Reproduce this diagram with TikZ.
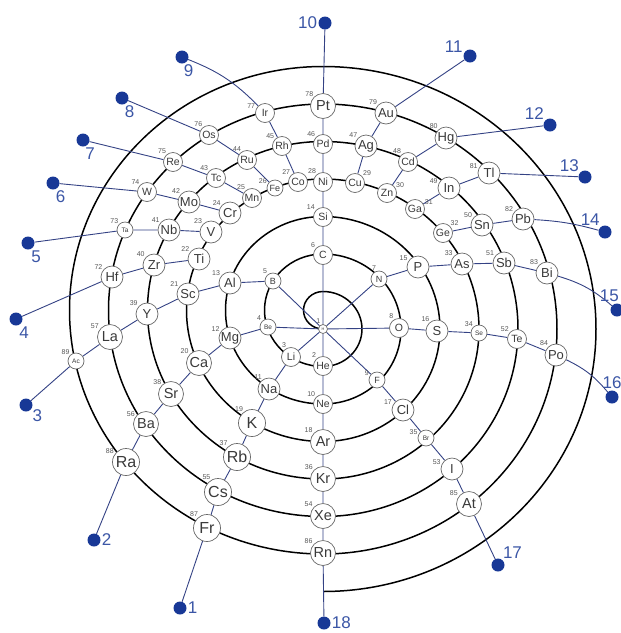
\documentclass[tikz,border=0pt]{standalone}
\usepackage{fontspec}
\setmainfont{Liberation Sans}
\usetikzlibrary{positioning}
\usetikzlibrary{backgrounds}

\definecolor{navy}{RGB}{24,56,150}
\definecolor{grpline}{RGB}{52,66,132}
\definecolor{rim}{RGB}{105,105,105}
\definecolor{ink}{RGB}{58,58,58}

\tikzset{
  el/.style={circle, draw=rim, line width=0.7pt, fill=white, inner sep=0pt, text=ink},
  elH/.style={el, minimum size=9pt, font=\fontsize{3.8}{4}\selectfont},
  elT/.style={el, minimum size=16pt, font=\fontsize{6.5}{7}\selectfont},
  elS/.style={el, minimum size=16pt, font=\fontsize{9}{10}\selectfont},
  elM/.style={el, minimum size=19pt, font=\fontsize{10.5}{11}\selectfont},
  elL/.style={el, minimum size=22pt, font=\fontsize{13}{14}\selectfont},
  elX/.style={el, minimum size=25pt, font=\fontsize{14.5}{15}\selectfont},
  elXX/.style={el, minimum size=27pt, font=\fontsize{16}{17}\selectfont},
  every label/.style={font=\fontsize{7}{7}\selectfont, text=ink!85, inner sep=0.5pt},
  gdot/.style={circle, fill=navy, inner sep=0pt, minimum size=13pt},
  gnum/.style={font=\fontsize{17}{17}\selectfont, text=navy!85, inner sep=1pt},
  grp/.style={draw=grpline, line width=0.9pt},
  spiral/.style={draw=black, line width=1.5pt},
}

\begin{document}
\begin{tikzpicture}[x=1pt, y=-1pt]
    \useasboundingbox (0,0) rectangle (621,633);

    % period 1 and 2
    \node[elH, label=115:1] (H) at (323,329) {H};
    \node[elM, label=130:2] (He) at (323,366) {He};
    \node[elM, label=115:3] (Li) at (291,357) {Li};
    \node[elT, label=140:4] (Be) at (268,327) {Be};
    \node[elS, label=130:5] (B) at (273,281) {B};
    \node[elM, label=138:6] (C) at (323,255) {C};
    \node[elS, label=105:7] (N) at (379,279) {N};
    \node[elM, label=120:8] (O) at (399,328) {O};
    \node[elS, label=155:9] (F) at (377,380) {F};
    \node[elM, label=137:10] (Ne) at (323,404) {Ne};

    % period 3
    \node[elL, label=125:11] (Na) at (269,389) {Na};
    \node[elL, label=150:12] (Mg) at (230,338) {Mg};
    \node[elL, label=145:13] (Al) at (230,283) {Al};
    \node[elM, label=140:14] (Si) at (323,217) {Si};
    \node[elL, label=150:15] (P) at (418,267) {P};
    \node[elL, label=128:16] (S) at (437,331) {S};
    \node[elL, label=157:17] (Cl) at (403,410) {Cl};
    \node[elX, label=140:18] (Ar) at (323,442) {Ar};

    % period 4
    \node[elXX, label=127:19] (K) at (252,423) {K};
    \node[elX, label=140:20] (Ca) at (199,363) {Ca};
    \node[elL, label=143:21] (Sc) at (188,294) {Sc};
    \node[elL, label=143:22] (Ti) at (199,259) {Ti};
    \node[elL, label=137:23] (V) at (211,232) {V};
    \node[elL, label=140:24] (Cr) at (230,213) {Cr};
    \node[elM, label=130:25] (Mn) at (252,198) {Mn};
    \node[elS, label=155:26] (Fe) at (275,188) {Fe};
    \node[elM, label=137:27] (Co) at (298,182) {Co};
    \node[elM, label=130:28] (Ni) at (323,182) {Ni};
    \node[elM, label=40:29] (Cu) at (355,183) {Cu};
    \node[elM, label=30:30] (Zn) at (387,193) {Zn};
    \node[elM, label=20:31] (Ga) at (415,209) {Ga};
    \node[elM, label=45:32] (Ge) at (443,233) {Ge};
    \node[elL, label=140:33] (As) at (462,264) {As};
    \node[elT, label=132:34] (Se) at (479,333) {Se};
    \node[elT, label=160:35] (Br) at (426,438) {Br};
    \node[elX, label=138:36] (Kr) at (323,479) {Kr};

    % period 5
    \node[elXX, label=130:37] (Rb) at (237,457) {Rb};
    \node[elX, label=135:38] (Sr) at (171,394) {Sr};
    \node[elL, label=140:39] (Y) at (147,314) {Y};
    \node[elL, label=140:40] (Zr) at (154,265) {Zr};
    \node[elL, label=140:41] (Nb) at (169,230) {Nb};
    \node[elL, label=137:42] (Mo) at (189,202) {Mo};
    \node[elM, label=137:43] (Tc) at (216,178) {Tc};
    \node[elM, label=123:44] (Ru) at (247,160) {Ru};
    \node[elM, label=137:45] (Rh) at (282,146) {Rh};
    \node[elM, label=137:46] (Pd) at (323,144) {Pd};
    \node[elL, label=135:47] (Ag) at (366,146) {Ag};
    \node[elM, label=130:48] (Cd) at (408,162) {Cd};
    \node[elL, label=160:49] (In) at (449,188) {In};
    \node[elL, label=145:50] (Sn) at (482,225) {Sn};
    \node[elL, label=145:51] (Sb) at (504,263) {Sb};
    \node[elM, label=140:52] (Te) at (517,339) {Te};
    \node[elL, label=160:53] (I) at (452,469) {I};
    \node[elX, label=140:54] (Xe) at (323,516) {Xe};

    % period 6
    \node[elXX, label=120:55] (Cs) at (218,492) {Cs};
    \node[elX, label=146:56] (Ba) at (146,424) {Ba};
    \node[elX, label=145:57] (La) at (110,337) {La};
    \node[elL, label=142:72] (Hf) at (112,277) {Hf};
    \node[elT, label=137:73] (Ta) at (125,230) {Ta};
    \node[elM, label=135:74] (W) at (147,192) {W};
    \node[elM, label=130:75] (Re) at (173,162) {Re};
    \node[elM, label=128:76] (Os) at (209,135) {Os};
    \node[elM, label=160:77] (Ir) at (265,113) {Ir};
    \node[elX, label=135:78] (Pt) at (323,106) {Pt};
    \node[elL, label=137:79] (Au) at (386,113) {Au};
    \node[elL, label=133:80] (Hg) at (446,138) {Hg};
    \node[elL, label=160:81] (Tl) at (489,173) {Tl};
    \node[elL, label=145:82] (Pb) at (523,219) {Pb};
    \node[elL, label=137:83] (Bi) at (547,273) {Bi};
    \node[elL, label=130:84] (Po) at (556,355) {Po};
    \node[elX, label=145:85] (At) at (469,504) {At};
    \node[elX, label=140:86] (Rn) at (323,553) {Rn};

    % period 7
    \node[elXX, label=127:87] (Fr) at (207,528) {Fr};
    \node[elXX, label=147:88] (Ra) at (126,462) {Ra};
    \node[elT, label=135:89] (Ac) at (76,361) {Ac};

    % group ends
    \node[gdot, label={[gnum]right:1}] (g1) at (180,608) {};
    \node[gdot, label={[gnum]right:2}] (g2) at (94,540) {};
    \node[gdot, label={[gnum]-35:3}] (g3) at (26,405) {};
    \node[gdot, label={[gnum]-70:4}] (g4) at (16,319) {};
    \node[gdot, label={[gnum]-70:5}] (g5) at (28,243) {};
    \node[gdot, label={[gnum]-75:6}] (g6) at (53,183) {};
    \node[gdot, label={[gnum]-80:7}] (g7) at (83,140) {};
    \node[gdot, label={[gnum]-75:8}] (g8) at (122,98) {};
    \node[gdot, label={[gnum]-85:9}] (g9) at (182,57) {};
    \node[gdot, label={[gnum]left:10}] (g10) at (325,23) {};
    \node[gdot, label={[gnum]160:11}] (g11) at (470,56) {};
    \node[gdot, label={[gnum]137:12}] (g12) at (550,125) {};
    \node[gdot, label={[gnum]137:13}] (g13) at (585,177) {};
    \node[gdot, label={[gnum]128:14}] (g14) at (605,232) {};
    \node[gdot, label={[gnum, anchor=south east, xshift=3pt]90:15}] (g15) at (617,310) {};
    \node[gdot, label={[gnum]90:16}] (g16) at (612,397) {};
    \node[gdot, label={[gnum]55:17}] (g17) at (498,565) {};
    \node[gdot, label={[gnum]right:18}] (g18) at (324,623) {};

    \begin{scope}[on background layer]
        % the spiral, one left and one right half per period
        \draw[spiral] (H.center)
            \foreach \a/\b/\c/\d in {19.5/18.75/39/37.5, 58.5/56.25/78/75,
                97.5/93.75/117/112.5, 136.5/131.25/156/150, 175.5/168.75/195/187.5,
                214.5/206.25/234/225, 253.5/243.75/273/262.5}
            { arc[start angle=90, end angle=270, x radius=\a, y radius=\b]
              arc[start angle=-90, end angle=90, x radius=\c, y radius=\d] };

        % groups
        \draw[grp] (g10) -- (Pt) -- (Pd) -- (Ni) -- (Si) -- (C) -- (H) -- (He) -- (Ne) -- (Ar) -- (Kr) -- (Xe) -- (Rn) -- (g18);
        \draw[grp] (H) -- (Li) -- (Na) -- (K) -- (Rb) -- (Cs) -- (Fr) -- (g1);
        \draw[grp] (H) -- (Be) -- (Mg) -- (Ca) -- (Sr) -- (Ba) -- (Ra) -- (g2);
        \draw[grp] (H) -- (B) -- (Al) -- (Sc) -- (Y) -- (La) -- (Ac) -- (g3);
        \draw[grp] (Ti) -- (Zr) -- (Hf) -- (g4);
        \draw[grp] (V) -- (Nb) -- (Ta) -- (g5);
        \draw[grp] (Cr) -- (Mo) -- (W) -- (g6);
        \draw[grp] (Mn) -- (Tc) -- (Re) -- (g7);
        \draw[grp] (Fe) -- (Ru) -- (Os) -- (g8);
        \draw[grp] (Co) -- (Rh) -- (Ir) to[bend right=12] (g9);
        \draw[grp] (Cu) -- (Ag) -- (Au) -- (g11);
        \draw[grp] (Zn) -- (Cd) -- (Hg) -- (g12);
        \draw[grp] (Ga) -- (In) -- (Tl) -- (g13);
        \draw[grp] (Ge) -- (Sn) -- (Pb) to[bend left=6] (g14);
        \draw[grp] (H) -- (N) -- (P) -- (As) -- (Sb) -- (Bi) to[bend left=12] (g15);
        \draw[grp] (H) -- (O) -- (S) -- (Se) -- (Te) -- (Po) to[bend left=12] (g16);
        \draw[grp] (H) -- (F) -- (Cl) -- (Br) -- (I) -- (At) -- (g17);
    \end{scope}
\end{tikzpicture}
\end{document}
